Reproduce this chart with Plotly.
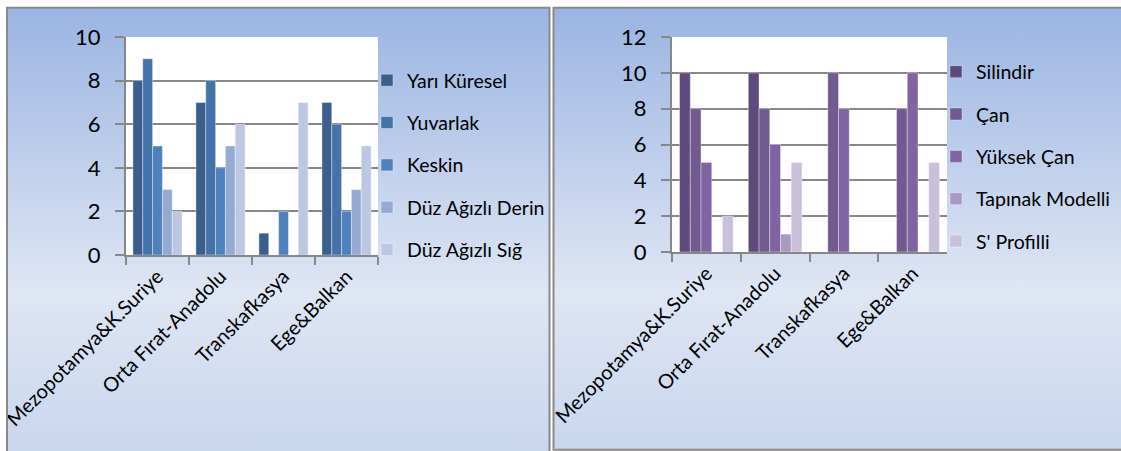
import base64
import plotly.graph_objects as go

# region labels shared by both charts
categories = ["Mezopotamya&K.Suriye", "Orta Fırat-Anadolu", "Transkafkasya", "Ege&Balkan"]

# left chart: rim / profile types
left_names = ["Yarı Küresel", "Yuvarlak", "Keskin", "Düz Ağızlı Derin", "Düz Ağızlı Sığ"]
yari_kuresel = [8, 7, 1, 7]
yuvarlak = [9, 8, 0, 6]
keskin = [5, 4, 2, 2]
duz_derin = [3, 5, 0, 3]
duz_sig = [2, 6, 7, 5]
left_values = [yari_kuresel, yuvarlak, keskin, duz_derin, duz_sig]
left_colors = ["#3b5e8d", "#4473a9", "#4f81bd", "#95aad2", "#bcc8e1"]

# right chart: body forms
right_names = ["Silindir", "Çan", "Yüksek Çan", "Tapınak Modelli", "S' Profilli"]
silindir = [10, 10, 0, 0]
can = [8, 8, 10, 8]
yuksek_can = [5, 6, 8, 10]
tapinak = [0, 1, 0, 0]
s_profilli = [2, 5, 0, 5]
right_values = [silindir, can, yuksek_can, tapinak, s_profilli]
right_colors = ["#5f4a7c", "#705a8f", "#8064a2", "#a99ac2", "#c9c0d9"]

W, H = 1121, 451
FONT = "Lato"
GRID = "#878787"


def px(x):
    return x / W


def py(y):
    return 1 - y / H


def gradient_uri():
    svg = ('<svg xmlns="http://www.w3.org/2000/svg" width="10" height="100" '
           'viewBox="0 0 10 100" preserveAspectRatio="none">'
           '<defs><linearGradient id="g" x1="0" y1="0" x2="0" y2="1">'
           '<stop offset="0" stop-color="#9ab4e2"/>'
           '<stop offset="0.64" stop-color="#dfe6f4"/>'
           '<stop offset="1" stop-color="#c8d6ee"/>'
           '</linearGradient></defs>'
           '<rect width="10" height="100" fill="url(#g)"/></svg>')
    return "data:image/svg+xml;base64," + base64.b64encode(svg.encode()).decode()


fig = go.Figure()

for name, vals, col in zip(left_names, left_values, left_colors):
    fig.add_trace(go.Bar(
        x=categories, y=vals, name=name, marker_color=col,
        marker_line=dict(color="rgba(255,255,255,0.45)", width=0.8),
        xaxis="x", yaxis="y", legend="legend", legendgroup="l" + name,
    ))

for name, vals, col in zip(right_names, right_values, right_colors):
    fig.add_trace(go.Bar(
        x=categories, y=vals, name=name, marker_color=col,
        marker_line=dict(color="rgba(255,255,255,0.45)", width=0.8),
        xaxis="x2", yaxis="y2", legend="legend2", legendgroup="r" + name,
    ))

xax = dict(
    type="category", tickson="boundaries", ticks="outside", ticklen=8,
    tickwidth=2, tickcolor=GRID, showline=True, linecolor=GRID, linewidth=2,
    tickangle=-45, tickfont=dict(family=FONT, size=20, color="black"),
    showgrid=False, automargin=False, fixedrange=True,
)
yax = dict(
    dtick=2, showgrid=True, gridcolor=GRID, gridwidth=2, showline=True,
    linecolor=GRID, linewidth=2, ticks="outside", ticklen=9, tickwidth=2,
    tickcolor=GRID, tickfont=dict(family=FONT, size=22, color="black"),
    ticklabelstandoff=10, zeroline=False, automargin=False, fixedrange=True,
)

leg = dict(
    font=dict(family=FONT, size=19.5, color="black"), bgcolor="rgba(0,0,0,0)",
    tracegroupgap=14, xanchor="left", yanchor="top", itemclick=False,
)

grad = gradient_uri()
fig.update_layout(
    width=W, height=H,
    margin=dict(l=0, r=0, t=0, b=0),
    paper_bgcolor="white",
    plot_bgcolor="white",
    barmode="group", bargap=0.22, bargroupgap=0,
    showlegend=True,
    xaxis=dict(xax, domain=[px(126), px(378)], anchor="y"),
    yaxis=dict(yax, domain=[py(255), py(37)], range=[0, 10], anchor="x"),
    xaxis2=dict(xax, domain=[px(672), px(947)], anchor="y2"),
    yaxis2=dict(yax, domain=[py(252), py(37)], range=[0, 12], anchor="x2"),
    legend=dict(leg, x=px(367), y=py(61)),
    legend2=dict(leg, x=px(936), y=py(52.5)),
    images=[
        dict(source=grad, xref="paper", yref="paper", x=px(7), y=py(7),
             sizex=px(543), sizey=446 / H, xanchor="left", yanchor="top",
             sizing="stretch", layer="below"),
        dict(source=grad, xref="paper", yref="paper", x=px(553), y=py(7),
             sizex=px(570), sizey=443 / H, xanchor="left", yanchor="top",
             sizing="stretch", layer="below"),
    ],
    shapes=[
        # white plot areas over the gradient
        dict(type="rect", xref="x domain", yref="y domain", x0=0, x1=1, y0=0, y1=1,
             fillcolor="white", line_width=0, layer="below"),
        dict(type="rect", xref="x2 domain", yref="y2 domain", x0=0, x1=1, y0=0, y1=1,
             fillcolor="white", line_width=0, layer="below"),
        # panel borders
        dict(type="rect", xref="paper", yref="paper", x0=px(7), x1=px(549.5),
             y0=py(460), y1=py(7.8), line=dict(color="#8a8a8a", width=2),
             fillcolor="rgba(0,0,0,0)"),
        dict(type="rect", xref="paper", yref="paper", x0=px(553.5), x1=px(1130),
             y0=py(449.8), y1=py(7.8), line=dict(color="#8a8a8a", width=2),
             fillcolor="rgba(0,0,0,0)"),
    ],
)

fig.write_html(
    "out.html",
    config={"displayModeBar": False},
    post_script="document.body.style.margin='0';document.body.style.overflow='hidden';",
)
